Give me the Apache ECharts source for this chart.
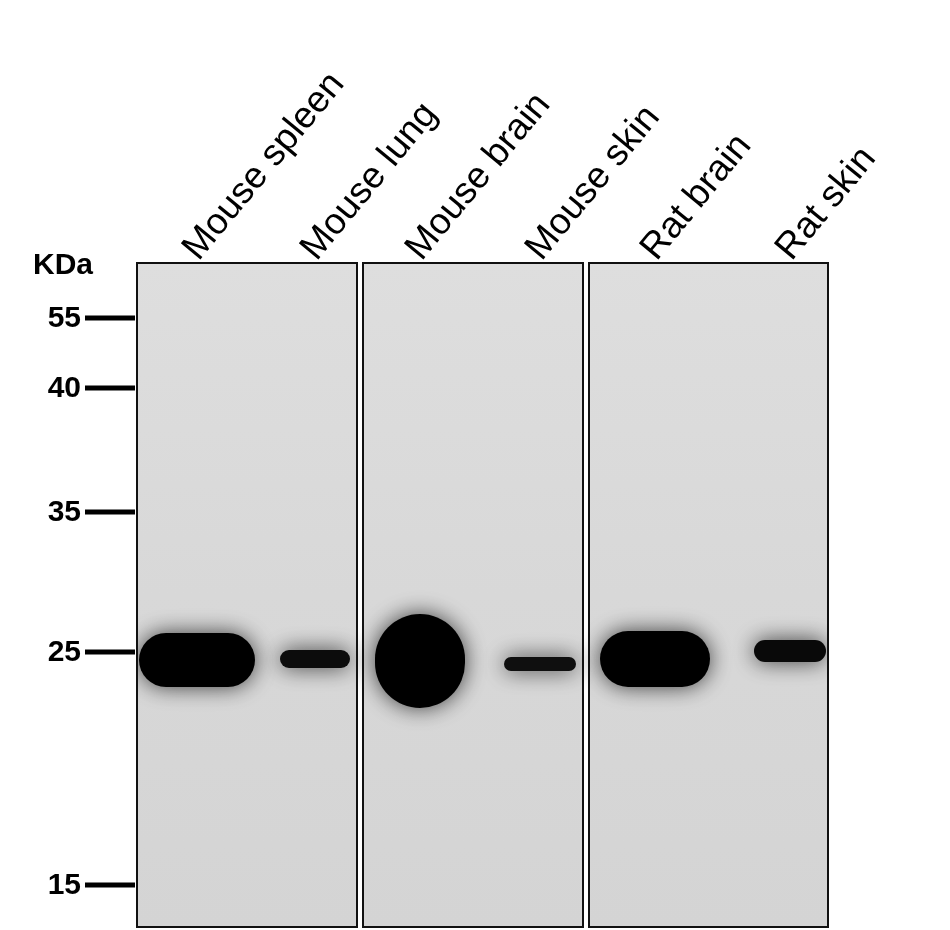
<!DOCTYPE html>
<html><head><meta charset="utf-8">
<script src="https://cdn.jsdelivr.net/npm/echarts@6/dist/echarts.min.js"></script>
<style>html,body{margin:0;background:#fff}#c{width:950px;height:930px}</style>
</head><body><div id="c"></div>
<script>
// Lanes (x in lane-position units, y in migration units from top of membrane)
const lanes = ['Mouse spleen','Mouse lung','Mouse brain','Mouse skin','Rat brain','Rat skin'];
const laneX = [60, 178, 283, 403, 518, 653];
const bandY = [397, 396, 398, 401, 396, 388];
const bandW = [116, 70, 90, 72, 110, 72];
const bandH = [54, 18, 94, 14, 56, 22];
const bandDark = [1.0, 0.8, 1.0, 0.75, 1.0, 0.85];
const markerKDa = ['55','40','35','25','15'];
const markerY = [55, 125, 249, 389, 622];
const panels = [[0,220],[226,446],[452,691]];

const chart = echarts.init(document.getElementById('c'));
const dark = v => { const g = Math.round(60*(1-v)); return `rgb(${g},${g},${g})`; };
chart.setOption({
  animation:false,
  grid:{left:137,right:122,top:263,bottom:3},
  xAxis:{type:'value',min:0,max:691,show:false},
  yAxis:{type:'value',min:0,max:664,inverse:true,show:false},
  series:[
    {type:'custom',clip:false,data:panels.map(p=>[p[0],p[1]]),
     renderItem:(params,api)=>{
       const a=api.coord([api.value(0),0]), b=api.coord([api.value(1),664]);
       return {type:'rect',shape:{x:a[0],y:a[1],width:b[0]-a[0],height:b[1]-a[1]},
         style:{fill:new echarts.graphic.LinearGradient(0,0,0,1,[{offset:0,color:'#dedede'},{offset:0.5,color:'#d8d8d8'},{offset:1,color:'#d4d4d4'}]),stroke:'#111',lineWidth:2}};
     }},
    {type:'custom',clip:true,data:laneX.map((x,i)=>[x,bandY[i],bandW[i],bandH[i],bandDark[i]]),
     renderItem:(params,api)=>{
       const c=api.coord([api.value(0),api.value(1)]);
       const w=api.size([api.value(2),0])[0], h=api.size([0,api.value(3)])[1];
       const col=dark(api.value(4));
       return {type:'rect',shape:{x:c[0]-w/2,y:c[1]-h/2,width:w,height:h,r:Math.min(w,h)/2},
         style:{fill:col,shadowBlur:22,shadowColor:'rgba(20,20,20,0.8)'}};
     }},
    {type:'custom',clip:false,data:markerY.map((y,i)=>[y,markerKDa[i]]),
     renderItem:(params,api)=>{
       const c=api.coord([0,api.value(0)]);
       return {type:'group',children:[
         {type:'rect',shape:{x:c[0]-52,y:c[1]-2.5,width:50,height:5},style:{fill:'#000'}},
         {type:'text',x:c[0]-56,y:c[1]+1,style:{text:markerKDa[params.dataIndex],align:'right',verticalAlign:'middle',font:'bold 30px Arial, "Liberation Sans"',fill:'#000'}}
       ]};
     }},
    {type:'custom',clip:false,data:laneX.map((x,i)=>[x,lanes[i]]),
     renderItem:(params,api)=>{
       const c=api.coord([api.value(0),0]);
       return {type:'text',x:c[0]+8,y:c[1]+4,rotation:0.88,
         style:{text:lanes[params.dataIndex],align:'left',verticalAlign:'bottom',font:'37px Arial, "Liberation Sans"',fill:'#000'}};
     }}
  ],
  graphic:[{type:'text',left:33,top:251,style:{text:'KDa',font:'bold 30px Arial, "Liberation Sans"',fill:'#000'}}]
});
</script></body></html>
